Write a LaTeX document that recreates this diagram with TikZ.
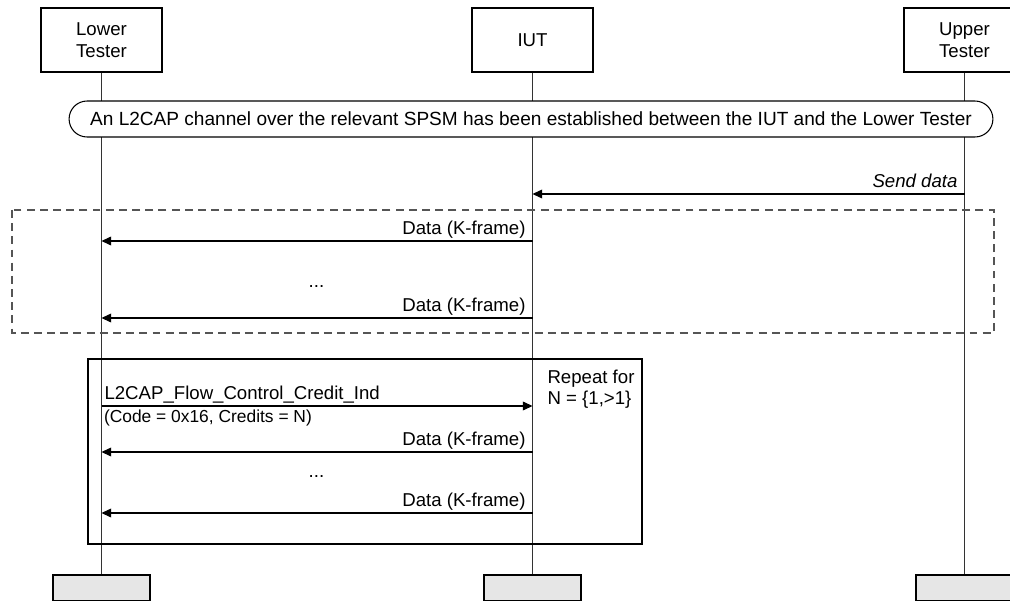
\documentclass[tikz,border=0pt]{standalone}
\usepackage{fontspec}
\setmainfont{Liberation Sans}
\usepackage{xcolor}
\usetikzlibrary{arrows.meta, positioning, calc}

\definecolor{boxgray}{HTML}{E6E6E6}
\definecolor{dashgray}{HTML}{555555}
\definecolor{linegray}{HTML}{333333}

\tikzset{
    actor/.style={draw, fill=white, minimum width=2.42cm, minimum height=1.28cm, align=center, inner sep=0pt},
    endbox/.style={draw, fill=boxgray, minimum width=1.94cm, minimum height=0.52cm, inner sep=0pt},
    lifeline/.style={draw=linegray},
    msg/.style={-{Triangle[length=5.5pt, width=5pt]}},
    lblr/.style={anchor=base east, inner sep=0pt, xshift=-0.13cm, yshift=0.13cm},
    lbll/.style={anchor=base west, inner sep=0pt, xshift=0.05cm, yshift=0.13cm},
}

\begin{document}
\begin{tikzpicture}[x=0.02cm, y=-0.02cm, line width=0.6pt, font=\fontsize{10.6}{12.5}\selectfont]
    \useasboundingbox (0,0) rectangle (1010,601);

    % Participants
    \node[actor] (lt) at (101.5,40) {Lower\\Tester};
    \node[actor] (iut) at (532.5,40) {IUT};
    \node[actor] (ut) at (964.5,40) {Upper\\Tester};

    \node[endbox] (ltend) at (101.5,588) {};
    \node[endbox] (iutend) at (532.5,588) {};
    \node[endbox] (utend) at (964.5,588) {};

    % Lifelines
    \draw[lifeline] (lt) -- (ltend);
    \draw[lifeline] (iut) -- (iutend);
    \draw[lifeline] (ut) -- (utend);

    % Initial condition
    \node[draw, fill=white, rounded corners=0.36cm, minimum width=18.48cm, minimum height=0.72cm,
          font=\fontsize{10.85}{13}\selectfont] (setup) at (531,119)
        {An L2CAP channel over the relevant SPSM has been established between the IUT and the Lower Tester};

    % Rows
    \coordinate (r1) at (0,194);
    \coordinate (r2) at (0,241);
    \coordinate (r3) at (0,318);
    \coordinate (r4) at (0,406);
    \coordinate (r5) at (0,452);
    \coordinate (r6) at (0,513);

    \draw[msg] (ut |- r1) -- node[lblr, pos=0] {\itshape Send data} (iut |- r1);

    % Data burst
    \draw[dashgray, dash pattern=on 4.5pt off 3pt] (12,210) rectangle (994,333);
    \draw[msg] (iut |- r2) -- node[lblr, pos=0] {Data (K-frame)} (lt |- r2);
    \node[anchor=base] (dots1) at (316.5,287) {...};
    \draw[msg] (iut |- r3) -- node[lblr, pos=0] {Data (K-frame)} (lt |- r3);

    % Repeat loop
    \draw (88,359) rectangle (642,544);
    \node[anchor=north west, align=left, inner sep=0pt] (rep) at (547,369) {Repeat for\\N = \{1,>1\}};

    \draw[msg] (lt |- r4) -- node[lbll, pos=0] {L2CAP\_Flow\_Control\_Credit\_Ind} (iut |- r4);
    \node[anchor=base west, inner sep=0pt, font=\fontsize{9.9}{12}\selectfont] (credits) at ($(lt |- r4)+(2,16)$) {(Code = 0x16, Credits = N)};
    \draw[msg] (iut |- r5) -- node[lblr, pos=0] {Data (K-frame)} (lt |- r5);
    \node[anchor=base] (dots2) at (316.5,477) {...};
    \draw[msg] (iut |- r6) -- node[lblr, pos=0] {Data (K-frame)} (lt |- r6);
\end{tikzpicture}
\end{document}
